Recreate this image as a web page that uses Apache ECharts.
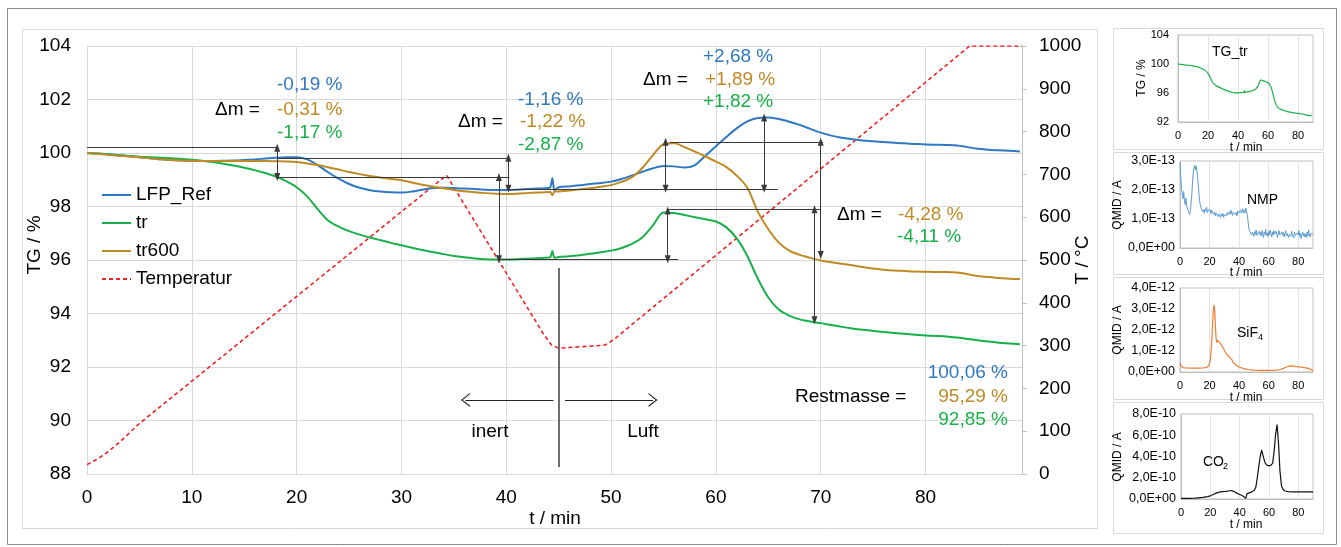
<!DOCTYPE html>
<html>
<head>
<meta charset="utf-8">
<script src="https://cdn.jsdelivr.net/npm/echarts@6/dist/echarts.min.js"></script>
<style>
  html, body { margin: 0; padding: 0; background: #fff; }
  #chart { width: 1341px; height: 547px; }
</style>
</head>
<body>
<div id="chart"></div>
<script>
// ---- thermogravimetry (TG) data, time in minutes ----
const timeMin = [
  0, 1, 2, 3, 4, 5, 6, 7, 8, 9,
  10, 11, 12, 13, 14, 15, 16, 17, 18, 19,
  20, 21, 22, 23, 24, 25, 26, 27, 28, 29,
  30, 31, 32, 33, 34, 35, 36, 37, 38, 39,
  40, 41, 42, 43, 44, 44.2, 44.4, 44.6,
  45, 46, 47, 48, 49,
  50, 51, 52, 53, 54, 55, 56, 57, 58, 59,
  60, 61, 62, 63, 64, 65, 66, 67, 68, 69,
  70, 71, 72, 73, 74, 75, 76, 77, 78, 79,
  80, 81, 82, 83, 84, 85, 86, 87, 88, 89
];
const tgLfpRef = [
  100.00, 99.98, 99.95, 99.92, 99.88, 99.84, 99.80, 99.77, 99.74, 99.72,
  99.71, 99.70, 99.70, 99.71, 99.72, 99.74, 99.76, 99.79, 99.82, 99.84,
  99.84, 99.76, 99.55, 99.28, 99.04, 98.84, 98.70, 98.61, 98.56, 98.53,
  98.52, 98.56, 98.63, 98.69, 98.70, 98.69, 98.67, 98.65, 98.63, 98.62,
  98.62, 98.63, 98.65, 98.67, 98.69, 98.72, 99.06, 98.60,
  98.72, 98.75, 98.79, 98.84, 98.88,
  98.93, 99.03, 99.16, 99.30, 99.43, 99.51, 99.50, 99.46, 99.55, 99.90,
  100.25, 100.60, 100.93, 101.18, 101.31, 101.33, 101.27, 101.17, 101.05, 100.90,
  100.76, 100.65, 100.57, 100.51, 100.47, 100.44, 100.41, 100.38, 100.36, 100.34,
  100.32, 100.31, 100.30, 100.28, 100.22, 100.16, 100.12, 100.10, 100.08, 100.06
];
const tgTr = [
  100.00, 99.98, 99.95, 99.92, 99.89, 99.86, 99.84, 99.82, 99.80, 99.78,
  99.75, 99.71, 99.66, 99.60, 99.53, 99.45, 99.36, 99.25, 99.12, 98.95,
  98.72, 98.38, 97.90, 97.48, 97.25, 97.08, 96.95, 96.84, 96.74, 96.64,
  96.55, 96.46, 96.37, 96.30, 96.22, 96.15, 96.10, 96.06, 96.03, 96.02,
  96.02, 96.03, 96.05, 96.07, 96.09, 96.10, 96.34, 96.08,
  96.11, 96.14, 96.18, 96.23, 96.29,
  96.35, 96.45, 96.60, 96.85, 97.30, 97.78, 97.76, 97.68, 97.60, 97.52,
  97.44, 97.22, 96.80, 96.15, 95.30, 94.60, 94.15, 93.92, 93.78, 93.70,
  93.64, 93.57, 93.50, 93.44, 93.39, 93.35, 93.31, 93.27, 93.24, 93.21,
  93.18, 93.16, 93.14, 93.10, 93.05, 93.00, 92.95, 92.91, 92.88, 92.85
];
const tgTr600 = [
  100.00, 99.97, 99.93, 99.90, 99.87, 99.84, 99.80, 99.77, 99.74, 99.72,
  99.71, 99.70, 99.70, 99.70, 99.70, 99.70, 99.70, 99.70, 99.69, 99.68,
  99.66, 99.61, 99.55, 99.47, 99.38, 99.29, 99.21, 99.14, 99.08, 99.03,
  98.98, 98.90, 98.81, 98.74, 98.68, 98.62, 98.57, 98.53, 98.50, 98.48,
  98.47, 98.48, 98.50, 98.52, 98.54, 98.54, 98.42, 98.56,
  98.56, 98.60, 98.64, 98.68, 98.74,
  98.80, 98.92, 99.10, 99.45, 99.92, 100.33, 100.36, 100.22, 100.05, 99.87,
  99.68, 99.47, 99.15, 98.70, 97.80, 97.15, 96.65, 96.35, 96.19, 96.08,
  95.98, 95.92, 95.86, 95.80, 95.74, 95.68, 95.64, 95.61, 95.59, 95.57,
  95.56, 95.55, 95.55, 95.53, 95.47, 95.40, 95.36, 95.33, 95.30, 95.29
];

// furnace temperature programme (°C)
const tempTime = [0, 1, 2, 3, 4, 5, 34.3, 43.6, 44.3, 45, 49.4, 50.3, 84.2, 89.2];
const tempC    = [22, 35, 52, 72, 95, 118, 698, 325, 302, 294, 301, 315, 1000, 1000];

// ---- mass spectrometry ion currents ----
// NMP, in units of 1e-13 A, every 0.5 min from 0 to 90
const nmpTime = [
  0,0.5,1,1.5,2,2.5,3,3.5,4,4.5, 5,5.5,6,6.5,7,7.5,8,8.5,9,9.5,
  10,10.5,11,11.5,12,12.5,13,13.5,14,14.5, 15,15.5,16,16.5,17,17.5,18,18.5,19,19.5,
  20,20.5,21,21.5,22,22.5,23,23.5,24,24.5, 25,25.5,26,26.5,27,27.5,28,28.5,29,29.5,
  30,30.5,31,31.5,32,32.5,33,33.5,34,34.5, 35,35.5,36,36.5,37,37.5,38,38.5,39,39.5,
  40,40.5,41,41.5,42,42.5,43,43.5,44,44.5, 45,45.5,46,46.5,47,47.5,48,48.5,49,49.5,
  50,50.5,51,51.5,52,52.5,53,53.5,54,54.5, 55,55.5,56,56.5,57,57.5,58,58.5,59,59.5,
  60,60.5,61,61.5,62,62.5,63,63.5,64,64.5, 65,65.5,66,66.5,67,67.5,68,68.5,69,69.5,
  70,70.5,71,71.5,72,72.5,73,73.5,74,74.5, 75,75.5,76,76.5,77,77.5,78,78.5,79,79.5,
  80,80.5,81,81.5,82,82.5,83,83.5,84,84.5, 85,85.5,86,86.5,87,87.5,88,88.5,89,89.5,
  90
];
const nmpQmid = [
  2.95, 2.45, 2.05, 1.85, 1.70, 1.95, 1.60, 1.50, 1.72, 1.45,
  1.40, 1.30, 1.22, 1.15, 1.30, 1.55, 1.85, 2.30, 2.60, 2.75,
  2.85, 2.70, 2.82, 2.65, 2.40, 2.10, 1.75, 1.55, 1.45, 1.35,
  1.40, 1.25, 1.32, 1.20, 1.35, 1.28, 1.40, 1.22, 1.30, 1.36,
  1.25, 1.32, 1.18, 1.30, 1.22, 1.27, 1.15, 1.24, 1.10, 1.20,
  1.15, 1.22, 1.08, 1.18, 1.12, 1.05, 1.17, 1.10, 1.20, 1.06,
  1.14, 1.08, 1.20, 1.12, 1.22, 1.15, 1.10, 1.25, 1.17, 1.30,
  1.20, 1.12, 1.24, 1.18, 1.30, 1.15, 1.22, 1.10, 1.28, 1.20,
  1.25, 1.18, 1.32, 1.20, 1.27, 1.35, 1.20, 1.30, 1.22, 1.38,
  1.25, 1.15, 0.95, 0.72, 0.58, 0.52, 0.60, 0.45, 0.55, 0.48,
  0.40, 0.56, 0.47, 0.62, 0.44, 0.50, 0.38, 0.58, 0.46, 0.53,
  0.42, 0.60, 0.50, 0.36, 0.55, 0.47, 0.64, 0.43, 0.52, 0.40,
  0.57, 0.45, 0.62, 0.50, 0.38, 0.55, 0.44, 0.60, 0.48, 0.42,
  0.58, 0.46, 0.35, 0.52, 0.60, 0.45, 0.50, 0.40, 0.56, 0.44,
  0.53, 0.38, 0.48, 0.60, 0.42, 0.50, 0.55, 0.36, 0.47, 0.52,
  0.40, 0.58, 0.45, 0.50, 0.35, 0.55, 0.43, 0.48, 0.38, 0.52,
  0.45, 0.60, 0.40, 0.50, 0.33, 0.47, 0.55, 0.42, 0.50, 0.38,
  0.48, 0.36, 0.55, 0.42, 0.62, 0.45, 0.38, 0.50, 0.44, 0.52,
  0.47
];
// SiF4, in units of 1e-12 A
const sifTime = [
  0, 0.5, 1, 2, 4, 8, 12, 16, 18, 19.5,
  20.5, 21.3, 22, 22.5, 23, 23.5, 24, 24.5, 25, 25.5,
  26, 26.5, 27, 27.5, 28, 29, 30, 31, 32, 33,
  34, 35, 36, 38, 40, 43, 46, 50, 55, 60,
  65, 68, 70, 72, 73, 75, 77, 79, 81, 83,
  85, 87, 89, 90
];
const sifQmid = [
  0.45, 0.32, 0.26, 0.21, 0.19, 0.18, 0.18, 0.19, 0.22, 0.30,
  0.55, 1.20, 2.20, 2.90, 3.20, 2.90, 2.10, 1.55, 1.40, 1.50,
  1.42, 1.52, 1.40, 1.35, 1.30, 1.22, 1.05, 0.90, 0.82, 0.75,
  0.70, 0.60, 0.45, 0.32, 0.24, 0.16, 0.12, 0.09, 0.08, 0.08,
  0.09, 0.12, 0.17, 0.24, 0.28, 0.30, 0.27, 0.25, 0.24, 0.22,
  0.20, 0.17, 0.10, 0.07
];
// CO2, in units of 1e-10 A
const co2Time = [
  0, 5, 10, 15, 18, 20, 22, 24, 26, 28,
  30, 32, 34, 36, 38, 40, 42, 43.2, 44.2, 45,
  46, 48, 50, 51, 52, 53, 54, 55, 55.5, 56.5,
  57.5, 59, 61, 62.5, 63.5, 64.5, 65.5, 66.5, 67.5, 68.5,
  69.5, 71, 73, 76, 80, 85, 90
];
const co2Qmid = [
  0.05, 0.06, 0.08, 0.15, 0.22, 0.30, 0.42, 0.55, 0.65, 0.70,
  0.72, 0.75, 0.80, 0.72, 0.55, 0.42, 0.30, 0.20, 0.06, 0.50,
  0.58, 0.65, 0.82, 1.10, 2.00, 3.00, 4.00, 4.60, 4.62, 3.80,
  3.35, 3.15, 3.15, 3.35, 4.50, 6.10, 7.00, 5.20, 2.60, 1.25,
  0.92, 0.75, 0.69, 0.67, 0.67, 0.67, 0.67
];

// ---- mass change annotations (t in min, TG in %) ----
const levelLines = [          // [t start, t end, TG level]
  [0, 18.2, 100.2], [18.2, 40.3, 99.82], [18.2, 40.3, 99.1],
  [39.4, 56.4, 96.03], [40.3, 65.9, 98.66],
  [55.6, 70.2, 100.42], [55.4, 70.0, 97.9]
];
const deltaArrows = [         // [t, TG from, TG to]
  [18.15, 100.2, 99.1], [40.2, 99.82, 98.66], [39.3, 99.1, 96.03],
  [55.2, 100.42, 98.66], [55.4, 97.85, 96.03], [64.6, 101.33, 98.66],
  [70.0, 100.42, 96.19], [69.4, 97.9, 93.75]
];
const gasSwitch = [45.0, 95.7, 88.26];              // t, TG top, TG bottom
const gasArrows = [[44.5, 36.1], [45.6, 54.0]];      // [t start, t end]
const gasArrowLevel = 90.77;

const dmLabels = [
  { blue: '-0,19 %', gold: '-0,31 %', green: '-1,17 %' },
  { blue: '-1,16 %', gold: '-1,22 %', green: '-2,87 %' },
  { blue: '+2,68 %', gold: '+1,89 %', green: '+1,82 %' },
  { gold: '-4,28 %', green: '-4,11 %' }
];

// ---- styling ----
const FONT = '"Liberation Sans", Arial, sans-serif';
const C_BLUE = '#2f78c2', C_GREEN = '#19b04b', C_GOLD = '#bf8a24', C_RED = '#ee2424';
const GRID_C = '#d9d9d9';
const zip = (a, b) => a.map((v, i) => [v, b[i]]);
const pct = v => v.toFixed(2).replace('.', ',') + ' %';
const sci = exp => v => v === 0 ? '0,0E+00' : v.toFixed(1).replace('.', ',') + 'E-' + exp;

const markData = [];
levelLines.forEach(([a, b, y]) => markData.push([
  { coord: [a, y], symbol: 'none', lineStyle: { color: '#3a3a3a', width: 1, type: 'solid' } },
  { coord: [b, y], symbol: 'none' }
]));
deltaArrows.forEach(([t, y1, y2]) => markData.push([
  { coord: [t, y1], symbol: 'triangle', symbolSize: [6, 8], lineStyle: { color: '#3a3a3a', width: 1, type: 'solid' } },
  { coord: [t, y2], symbol: 'triangle', symbolSize: [6, 8] }
]));
markData.push([
  { coord: [gasSwitch[0], gasSwitch[1]], symbol: 'none', lineStyle: { color: '#4a4a4a', width: 1.6, type: 'solid' } },
  { coord: [gasSwitch[0], gasSwitch[2]], symbol: 'none' }
]);
const chevron = 'path://M0,10 L5,0 L10,10 L9,10 L5,2 L1,10 Z';
gasArrows.forEach(([a, b]) => markData.push([
  { coord: [a, gasArrowLevel], symbol: 'none', lineStyle: { color: '#222', width: 1.2, type: 'solid' } },
  { coord: [b, gasArrowLevel], symbol: chevron, symbolSize: [14, 9] }
]));

function txt(x, y, text, color, opts = {}) {
  return {
    type: 'text', x, y, rotation: opts.rot || 0, z: 50, silent: true,
    style: {
      text, fill: color || '#000',
      font: (opts.size || 19) + 'px ' + FONT,
      textAlign: opts.align || 'left', textVerticalAlign: 'middle', verticalAlign: 'middle'
    }
  };
}
function frame(x, y, w, h, color) {
  return { type: 'rect', shape: { x, y, width: w, height: h }, z: -10, silent: true,
           style: { fill: 'none', stroke: color, lineWidth: 1 } };
}

const nLast = tgLfpRef.length - 1;
const graphics = [
  frame(7.5, 8.5, 1329, 536, '#8c8c8c'),
  frame(22.5, 29.5, 1075, 499, '#d9d9d9'),
  frame(1113.5, 28.5, 210, 121, '#d9d9d9'),
  frame(1113.5, 152.5, 210, 122, '#d9d9d9'),
  frame(1113.5, 277.5, 210, 122, '#d9d9d9'),
  frame(1113.5, 402.5, 210, 131, '#d9d9d9'),
  // axis titles
  txt(35, 245, 'TG / %', '#000', { rot: Math.PI / 2, align: 'center' }),
  txt(1083, 260, 'T / °C', '#000', { rot: Math.PI / 2, align: 'center' }),
  txt(555, 519, 't / min', '#000', { align: 'center' }),
  // mass change labels
  txt(277, 85, dmLabels[0].blue, C_BLUE),
  txt(215, 110, 'Δm =', '#000'),
  txt(277, 110, dmLabels[0].gold, C_GOLD),
  txt(277, 133, dmLabels[0].green, C_GREEN),
  txt(518, 100, dmLabels[1].blue, C_BLUE),
  txt(458, 122, 'Δm =', '#000'),
  txt(520, 122, dmLabels[1].gold, C_GOLD),
  txt(518, 145, dmLabels[1].green, C_GREEN),
  txt(703, 57, dmLabels[2].blue, C_BLUE),
  txt(643, 80, 'Δm =', '#000'),
  txt(705, 80, dmLabels[2].gold, C_GOLD),
  txt(703, 102, dmLabels[2].green, C_GREEN),
  txt(837, 215, 'Δm =', '#000'),
  txt(898, 215, dmLabels[3].gold, C_GOLD),
  txt(897, 237, dmLabels[3].green, C_GREEN),
  txt(795, 397, 'Restmasse =', '#000'),
  txt(1008, 373, pct(tgLfpRef[nLast]), C_BLUE, { align: 'right' }),
  txt(1008, 397, pct(tgTr600[nLast]), C_GOLD, { align: 'right' }),
  txt(1008, 420, pct(tgTr[nLast]), C_GREEN, { align: 'right' }),
  txt(490, 432, 'inert', '#000', { align: 'center' }),
  txt(643, 432, 'Luft', '#000', { align: 'center' }),
  // side panel titles
  txt(1212, 52, 'TG_tr', '#000', { size: 14 }),
  txt(1247, 200, 'NMP', '#000', { size: 14 }),
  txt(1237, 333, 'SiF', '#000', { size: 14 }),
  txt(1258, 338, '4', '#000', { size: 9 }),
  txt(1203, 462, 'CO', '#000', { size: 14 }),
  txt(1223, 467, '2', '#000', { size: 9 }),
  txt(1142, 78, 'TG / %', '#000', { size: 12, rot: Math.PI / 2, align: 'center' }),
  txt(1118, 205, 'QMID / A', '#000', { size: 12, rot: Math.PI / 2, align: 'center' }),
  txt(1118, 330, 'QMID / A', '#000', { size: 12, rot: Math.PI / 2, align: 'center' }),
  txt(1118, 457, 'QMID / A', '#000', { size: 12, rot: Math.PI / 2, align: 'center' }),
  txt(1246, 148, 't / min', '#000', { size: 12, align: 'center' }),
  txt(1246, 273, 't / min', '#000', { size: 12, align: 'center' }),
  txt(1246, 398, 't / min', '#000', { size: 12, align: 'center' }),
  txt(1246, 525, 't / min', '#000', { size: 12, align: 'center' })
];

const sideGrids = [
  { left: 1178, top: 35, width: 135, height: 87 },
  { left: 1180, top: 161, width: 133, height: 87 },
  { left: 1180, top: 288, width: 133, height: 84 },
  { left: 1181, top: 414, width: 132, height: 85 }
];
const sideY = [
  { min: 92, max: 104, interval: 4, fmt: v => String(v), margin: 9, size: 11 },
  { min: 0, max: 3, interval: 1, fmt: sci(13), margin: 5, size: 12.5 },
  { min: 0, max: 4, interval: 1, fmt: sci(12), margin: 5, size: 12.5 },
  { min: 0, max: 8, interval: 2, fmt: sci(10), margin: 5, size: 12.5 }
];

const option = {
  animation: false,
  backgroundColor: '#fff',
  textStyle: { fontFamily: FONT },
  grid: [
    { left: 87, top: 46, width: 935, height: 428 },
    ...sideGrids.map(g => ({ ...g, show: true, borderColor: '#bfbfbf', borderWidth: 1, backgroundColor: 'transparent' }))
  ],
  legend: {
    data: ['LFP_Ref', 'tr', 'tr600', 'Temperatur'],
    orient: 'vertical', left: 96, top: 180,
    itemWidth: 29, itemHeight: 14, itemGap: 8,
    itemStyle: { opacity: 0 },
    textStyle: { fontSize: 19, color: '#000', fontFamily: FONT, lineHeight: 20 },
    selectedMode: false
  },
  xAxis: [
    {
      type: 'value', gridIndex: 0, min: 0, max: 89.2, interval: 10,
      axisLine: { show: true, lineStyle: { color: GRID_C } },
      axisTick: { show: false },
      axisLabel: { fontSize: 19, color: '#000', margin: 14, showMaxLabel: false },
      splitLine: { show: true, lineStyle: { color: GRID_C, width: 1 } }
    },
    ...sideGrids.map((g, i) => ({
      type: 'value', gridIndex: i + 1, min: 0, max: 90, interval: 20,
      axisLine: { show: true, lineStyle: { color: '#bfbfbf' } },
      axisTick: { show: false },
      axisLabel: { fontSize: 11, color: '#000', margin: 8, showMaxLabel: false },
      splitLine: { show: true, lineStyle: { color: '#e3e3e3', width: 1 } }
    }))
  ],
  yAxis: [
    {
      type: 'value', gridIndex: 0, min: 88, max: 104, interval: 2, position: 'left',
      axisLine: { show: true, lineStyle: { color: GRID_C } },
      axisTick: { show: false },
      axisLabel: { fontSize: 19, color: '#000', margin: 16 },
      splitLine: { show: true, lineStyle: { color: GRID_C, width: 1 } }
    },
    {
      type: 'value', gridIndex: 0, min: 0, max: 1000, interval: 100, position: 'right',
      axisLine: { show: true, lineStyle: { color: '#bfbfbf' } },
      axisTick: { show: true, inside: false, length: 5, lineStyle: { color: '#bfbfbf' } },
      axisLabel: { fontSize: 19, color: '#000', margin: 17, formatter: v => String(v) },
      splitLine: { show: false }
    },
    ...sideY.map((a, i) => ({
      type: 'value', gridIndex: i + 1, min: a.min, max: a.max, interval: a.interval,
      axisLine: { show: true, lineStyle: { color: '#bfbfbf' } },
      axisTick: { show: false },
      axisLabel: { fontSize: a.size, color: '#000', margin: a.margin, formatter: a.fmt },
      splitLine: { show: false }
    }))
  ],
  graphic: graphics,
  series: [
    {
      name: 'LFP_Ref', type: 'line', xAxisIndex: 0, yAxisIndex: 0,
      data: zip(timeMin, tgLfpRef), symbol: 'none', smooth: 0.3,
      lineStyle: { color: C_BLUE, width: 2 }, itemStyle: { color: C_BLUE }, z: 3
    },
    {
      name: 'tr', type: 'line', xAxisIndex: 0, yAxisIndex: 0,
      data: zip(timeMin, tgTr), symbol: 'none', smooth: 0.3,
      lineStyle: { color: C_GREEN, width: 2 }, itemStyle: { color: C_GREEN }, z: 3,
      markLine: {
        silent: true, animation: false, label: { show: false },
        emphasis: { disabled: true }, data: markData
      }
    },
    {
      name: 'tr600', type: 'line', xAxisIndex: 0, yAxisIndex: 0,
      data: zip(timeMin, tgTr600), symbol: 'none', smooth: 0.3,
      lineStyle: { color: C_GOLD, width: 2 }, itemStyle: { color: C_GOLD }, z: 3
    },
    {
      name: 'Temperatur', type: 'line', xAxisIndex: 0, yAxisIndex: 1,
      data: zip(tempTime, tempC), symbol: 'none',
      lineStyle: { color: C_RED, width: 1.6, type: [4, 3] }, itemStyle: { color: C_RED }, z: 2
    },
    {
      name: 'TG_tr', type: 'line', xAxisIndex: 1, yAxisIndex: 2,
      data: zip(timeMin, tgTr), symbol: 'none', smooth: 0.3,
      lineStyle: { color: C_GREEN, width: 1.2 }
    },
    {
      name: 'NMP', type: 'line', xAxisIndex: 2, yAxisIndex: 3,
      data: zip(nmpTime, nmpQmid), symbol: 'none',
      lineStyle: { color: '#5b9bd5', width: 1 }
    },
    {
      name: 'SiF4', type: 'line', xAxisIndex: 3, yAxisIndex: 4,
      data: zip(sifTime, sifQmid), symbol: 'none',
      lineStyle: { color: '#ed7d31', width: 1.2 }
    },
    {
      name: 'CO2', type: 'line', xAxisIndex: 4, yAxisIndex: 5,
      data: zip(co2Time, co2Qmid), symbol: 'none',
      lineStyle: { color: '#111', width: 1.2 }
    }
  ]
};

const chart = echarts.init(document.getElementById('chart'), null, { renderer: 'canvas' });
chart.setOption(option);
</script>
</body>
</html>
